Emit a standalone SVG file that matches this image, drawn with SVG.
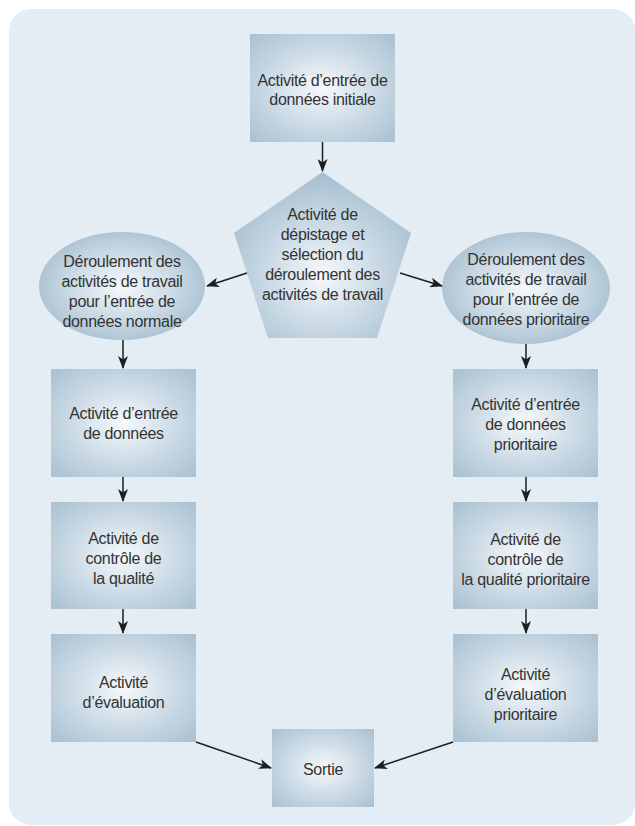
<svg xmlns="http://www.w3.org/2000/svg" width="635" height="826" viewBox="0 0 635 826">
<defs>
<radialGradient id="gBox" cx="0.5" cy="0.5" r="0.72">
<stop offset="0" stop-color="#f6f9fb"/>
<stop offset="0.55" stop-color="#c8d8e4"/>
<stop offset="1" stop-color="#a7bfd0"/>
</radialGradient>
<radialGradient id="gEll" cx="0.5" cy="0.5" r="0.55">
<stop offset="0" stop-color="#f6f9fb"/>
<stop offset="0.6" stop-color="#c8d8e4"/>
<stop offset="1" stop-color="#a7bfd0"/>
</radialGradient>
<radialGradient id="gPent" cx="0.5" cy="0.62" r="0.6">
<stop offset="0" stop-color="#f6f9fb"/>
<stop offset="0.55" stop-color="#c8d8e4"/>
<stop offset="1" stop-color="#a7bfd0"/>
</radialGradient>
<marker id="arr" viewBox="0 0 13 10" refX="12" refY="5" markerWidth="13" markerHeight="10" markerUnits="userSpaceOnUse" orient="auto">
<path d="M0,0 L13,5 L0,10 L3.5,5 z" fill="#1e1e1e"/>
</marker>
<style>
.box{fill:url(#gBox);}
.ell{fill:url(#gEll);}
.pent{fill:url(#gPent);}
text{font-family:"Liberation Sans",Arial,Helvetica,sans-serif;font-size:16px;fill:#333;text-anchor:middle;letter-spacing:-0.3px;}
.c line{stroke:#1e1e1e;stroke-width:1.5;marker-end:url(#arr);}
</style>
</defs>
<rect x="9" y="9" width="626" height="816" rx="22" ry="22" fill="#e4ecf4"/>
<g id="n_initial">
<rect class="box" x="250" y="34" width="145" height="108"/>
<text x="322.5" y="85.5">Activité d’entrée de</text>
<text x="322.5" y="105">données initiale</text>
</g>
<g id="n_depistage">
<polygon class="pent" points="322.5,172 411,233 377,338 268,338 234,233"/>
<text x="322.5" y="219.5">Activité de</text>
<text x="322.5" y="239.5">dépistage et</text>
<text x="322.5" y="259.5">sélection du</text>
<text x="322.5" y="279.5">déroulement des</text>
<text x="322.5" y="299.5">activités de travail</text>
</g>
<g id="n_normal">
<ellipse class="ell" cx="122" cy="286" rx="83" ry="54"/>
<text x="122" y="266.5">Déroulement des</text>
<text x="122" y="286.5">activités de travail</text>
<text x="122" y="306.5">pour l’entrée de</text>
<text x="122" y="326.5">données normale</text>
</g>
<g id="n_prio">
<ellipse class="ell" cx="526" cy="288" rx="84" ry="56"/>
<text x="526" y="265">Déroulement des</text>
<text x="526" y="285">activités de travail</text>
<text x="526" y="305">pour l’entrée de</text>
<text x="526" y="324.5">données prioritaire</text>
</g>
<g id="n_entree">
<rect class="box" x="51" y="369" width="145" height="108"/>
<text x="123.5" y="418.5">Activité d’entrée</text>
<text x="123.5" y="438.5">de données</text>
</g>
<g id="n_controle">
<rect class="box" x="51" y="502" width="145" height="107"/>
<text x="123.5" y="543.5">Activité de</text>
<text x="123.5" y="563.5">contrôle de</text>
<text x="123.5" y="583.5">la qualité</text>
</g>
<g id="n_eval">
<rect class="box" x="51" y="634" width="145" height="108"/>
<text x="123.5" y="688">Activité</text>
<text x="123.5" y="708">d’évaluation</text>
</g>
<g id="n_entree_p">
<rect class="box" x="453" y="369" width="145" height="108"/>
<text x="525.5" y="409.5">Activité d’entrée</text>
<text x="525.5" y="429.5">de données</text>
<text x="525.5" y="449.5">prioritaire</text>
</g>
<g id="n_controle_p">
<rect class="box" x="453" y="502" width="145" height="107"/>
<text x="525.5" y="544.5">Activité de</text>
<text x="525.5" y="564.5">contrôle de</text>
<text x="525.5" y="584.5">la qualité prioritaire</text>
</g>
<g id="n_eval_p">
<rect class="box" x="453" y="634" width="145" height="108"/>
<text x="525.5" y="679.5">Activité</text>
<text x="525.5" y="699.5">d’évaluation</text>
<text x="525.5" y="719.5">prioritaire</text>
</g>
<g id="n_sortie">
<rect class="box" x="272" y="729" width="102" height="78"/>
<text x="323" y="774.5">Sortie</text>
</g>
<g id="connectors" class="c">
<line x1="322.5" y1="142" x2="322.5" y2="171"/>
<line x1="247" y1="273" x2="207" y2="286"/>
<line x1="400" y1="273" x2="442" y2="286"/>
<line x1="123" y1="340" x2="123" y2="368"/>
<line x1="526" y1="344" x2="526" y2="368"/>
<line x1="123" y1="477" x2="123" y2="501"/>
<line x1="526" y1="477" x2="526" y2="501"/>
<line x1="123" y1="609" x2="123" y2="633"/>
<line x1="526" y1="609" x2="526" y2="633"/>
<line x1="196" y1="742" x2="271" y2="768"/>
<line x1="453" y1="742" x2="375" y2="768"/>
</g>
</svg>
